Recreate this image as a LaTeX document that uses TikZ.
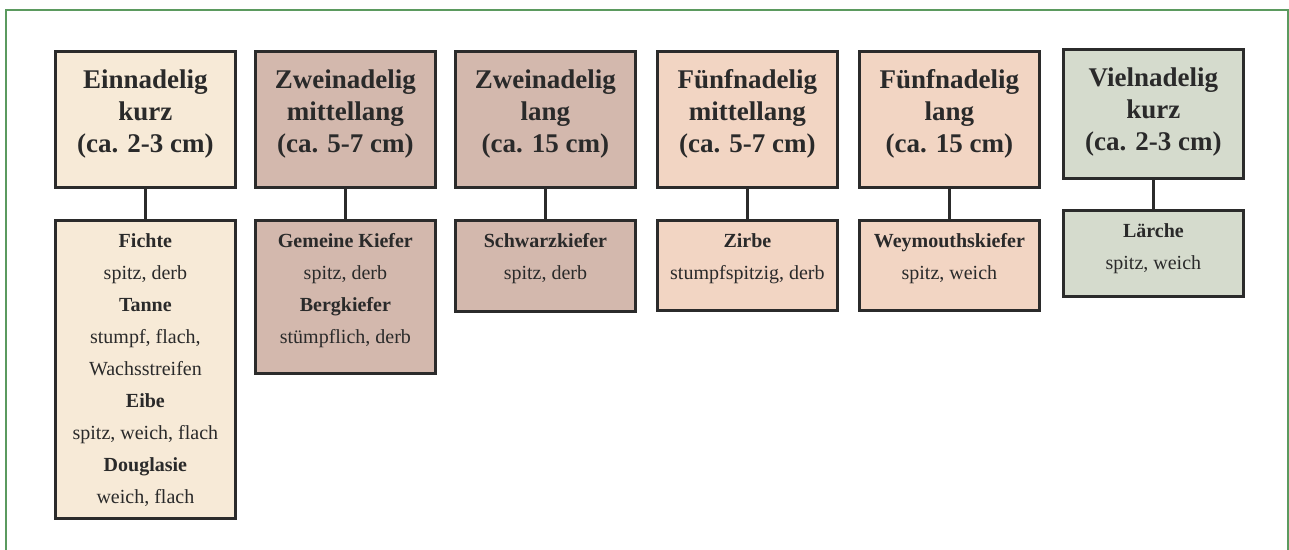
\documentclass[tikz,border=0pt]{standalone}
\usepackage{fontspec}
\setmainfont{Liberation Serif}
\definecolor{cream}{HTML}{F7EAD7}
\definecolor{rose}{HTML}{D3B8AD}
\definecolor{peach}{HTML}{F2D5C3}
\definecolor{sage}{HTML}{D5DBCD}
\definecolor{linec}{HTML}{2B2B2B}
\definecolor{framec}{HTML}{5B9A5F}
\definecolor{textc}{HTML}{2A2A2A}
\newcommand\topcontent[2]{\parbox[t][#1][t]{180pt}{\centering\vspace*{18pt}#2}}
\newcommand\subcontent[2]{\parbox[t][#1][t]{180pt}{\centering\vspace*{13pt}#2}}
\begin{document}
\begin{tikzpicture}[x=1pt,y=-1pt,
  topbox/.style={draw=linec, line width=2.8pt, inner sep=0pt, anchor=north west, text=textc,
    font=\fontsize{27}{32}\selectfont\bfseries},
  subbox/.style={draw=linec, line width=2.8pt, inner sep=0pt, anchor=north west, text=textc,
    font=\fontsize{20}{32}\selectfont},
  link/.style={draw=linec, line width=2.8pt}]
\useasboundingbox (0,0) rectangle (1289,549);
\draw[framec, line width=2pt] (6,560) -- (6,10) -- (1288,10) -- (1288,560);

\node[topbox, fill=cream] (t1) at (54,50) {\topcontent{136pt}{Einnadelig\\kurz\\(ca. 2-3 cm)}};
\node[topbox, fill=rose]  (t2) at (254,50) {\topcontent{136pt}{Zweinadelig\\mittellang\\(ca. 5-7 cm)}};
\node[topbox, fill=rose]  (t3) at (454,50) {\topcontent{136pt}{Zweinadelig\\lang\\(ca. 15 cm)}};
\node[topbox, fill=peach] (t4) at (656,50) {\topcontent{136pt}{Fünfnadelig\\mittellang\\(ca. 5-7 cm)}};
\node[topbox, fill=peach] (t5) at (858,50) {\topcontent{136pt}{Fünfnadelig\\lang\\(ca. 15 cm)}};
\node[topbox, fill=sage]  (t6) at (1062,48) {\topcontent{129pt}{Vielnadelig\\kurz\\(ca. 2-3 cm)}};

\node[subbox, fill=cream] (s1) at (54,219) {\subcontent{298pt}{\textbf{Fichte}\\spitz, derb\\\textbf{Tanne}\\stumpf, flach,\\Wachsstreifen\\\textbf{Eibe}\\spitz, weich, flach\\\textbf{Douglasie}\\weich, flach}};
\node[subbox, fill=rose]  (s2) at (254,219) {\subcontent{153pt}{\textbf{Gemeine Kiefer}\\spitz, derb\\\textbf{Bergkiefer}\\stümpflich, derb}};
\node[subbox, fill=rose]  (s3) at (454,219) {\subcontent{91pt}{\textbf{Schwarzkiefer}\\spitz, derb}};
\node[subbox, fill=peach] (s4) at (656,219) {\subcontent{90pt}{\textbf{Zirbe}\\stumpfspitzig, derb}};
\node[subbox, fill=peach] (s5) at (858,219) {\subcontent{90pt}{\textbf{Weymouthskiefer}\\spitz, weich}};
\node[subbox, fill=sage]  (s6) at (1062,209) {\subcontent{86pt}{\textbf{Lärche}\\spitz, weich}};

\foreach \i in {1,...,6} \draw[link] (t\i.south) -- (s\i.north);
\end{tikzpicture}
\end{document}
